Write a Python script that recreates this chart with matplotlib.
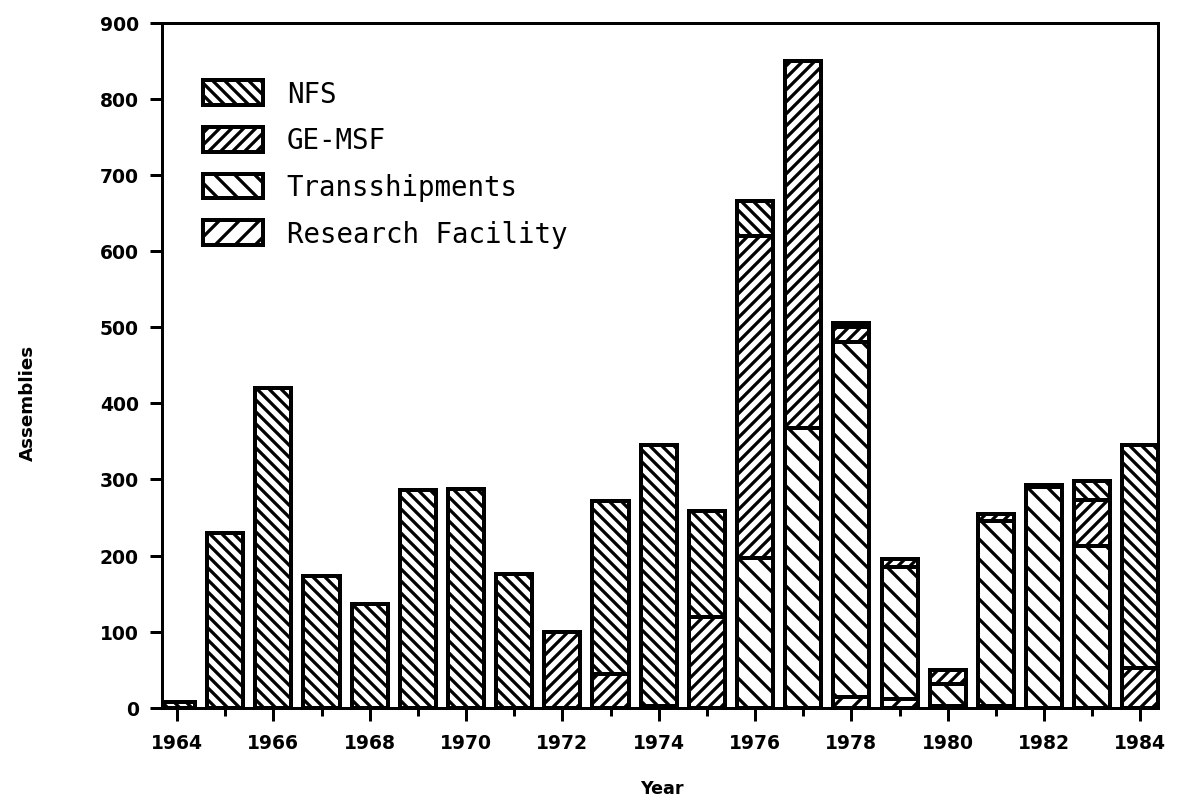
import numpy as np
import matplotlib
matplotlib.use("Agg")
from matplotlib import pyplot as plt
from matplotlib.ticker import MultipleLocator

# spent fuel assemblies received per year
years = np.arange(1964, 1985)
research = [0, 0, 0, 0, 0, 0, 0, 0, 0, 0, 0, 0, 0, 0, 15, 12, 3, 3, 0, 0, 0]
trans = [0, 0, 0, 0, 0, 0, 0, 0, 0, 0, 0, 0, 197, 367, 465, 173, 29, 242, 290, 212, 0]
gemsf = [0, 0, 0, 0, 0, 0, 0, 0, 100, 45, 3, 120, 423, 483, 20, 10, 18, 10, 3, 61, 52]
nfs = [8, 230, 420, 173, 136, 286, 288, 176, 0, 227, 342, 138, 45, 0, 6, 0, 0, 0, 0, 25, 293]

DPI = 180
plt.rcParams['hatch.linewidth'] = 1.3
plt.rcParams['font.family'] = 'DejaVu Sans'

fig = plt.figure(figsize=(1185.5 / DPI, 801.5 / DPI), dpi=DPI)
ax = fig.add_axes([162 / 1185, 1 - 708 / 801, 996 / 1185, 685 / 801])

BS = "\\"
series = [
    ("NFS", nfs, BS * 5),
    ("GE-MSF", gemsf, "/" * 5),
    ("Transshipments", trans, BS * 3),
    ("Research Facility", research, "/" * 3),
]
# stack order bottom -> top: research, transshipments, GE-MSF, NFS
stack = [series[3], series[2], series[1], series[0]]

bottom = np.zeros(len(years))
handles = {}
for name, vals, hatch in stack:
    vals = np.array(vals, dtype=float)
    b = ax.bar(years, vals, width=0.75, bottom=bottom, color="white",
               edgecolor="black", linewidth=1.6, hatch=hatch, label=name)
    handles[name] = b
    bottom += vals

ax.set_xlim(1963.69, 1984.375)
ax.set_ylim(0, 900)

ax.xaxis.set_major_locator(MultipleLocator(2))
ax.xaxis.set_minor_locator(MultipleLocator(1))
ax.yaxis.set_major_locator(MultipleLocator(100))

for s in ax.spines.values():
    s.set_linewidth(1.2)

ax.tick_params(axis="x", which="major", length=5.2, width=1.2, pad=5)
ax.tick_params(axis="x", which="minor", length=3.2, width=1.2)
ax.tick_params(axis="y", which="major", length=4.8, width=1.2, pad=4.5)
for lbl in ax.get_xticklabels() + ax.get_yticklabels():
    lbl.set_fontweight("bold")
    lbl.set_fontsize(7.5)

ax.set_xlabel("Year", fontsize=7, fontweight="bold")
ax.set_ylabel("Assemblies", fontsize=7.3, fontweight="bold")
ax.xaxis.set_label_coords(0.502, -0.104)
ax.yaxis.set_label_coords(-0.126, 0.445)

names = ["NFS", "GE-MSF", "Transshipments", "Research Facility"]
ax.legend([handles[n] for n in names], names, loc="upper left",
          bbox_to_anchor=(0.041, 0.916), frameon=False,
          prop={"family": "DejaVu Sans Mono", "size": 11},
          handlelength=2.2, handleheight=1.0, labelspacing=0.68,
          handletextpad=0.85, borderpad=0, borderaxespad=0)

fig.savefig("out.png", dpi=DPI)
